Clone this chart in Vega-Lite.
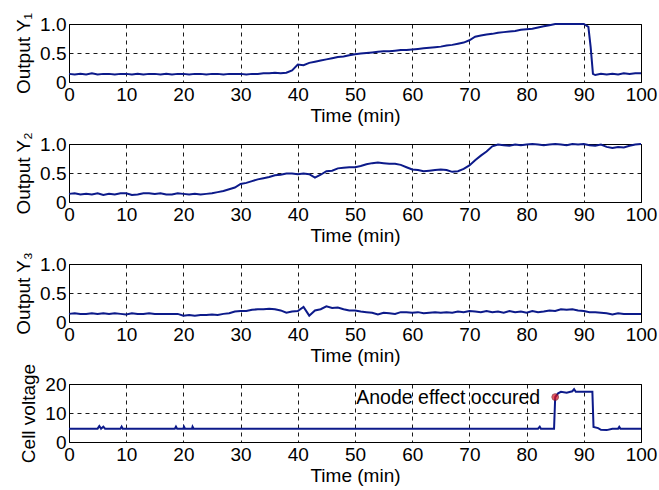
{
  "$schema": "https://vega.github.io/schema/vega-lite/v6.json",
  "padding": {"left": 14, "top": 11, "right": 5, "bottom": 5},
  "background": "white",
  "bounds": "flush",
  "spacing": 62,
  "config": {
    "view": {"stroke": "black", "strokeWidth": 1},
    "font": "Liberation Sans",
    "axis": {
      "labelFont": "Liberation Sans", "labelFontSize": 19, "labelColor": "black",
      "titleFont": "Liberation Sans", "titleFontSize": 19, "titleFontWeight": "normal", "titleColor": "black",
      "domain": false, "ticks": false, "grid": true, "gridColor": "black", "gridDash": [4, 4],
      "gridOpacity": 1, "gridWidth": 0.9, "labelPadding": 3
    },
    "axisX": {"titlePadding": 2, "labelFlush": false},
    "axisY": {"titlePadding": 6, "labelFlush": false}
  },
  "datasets": {
    "y1": [
      {"t":0,"v":0.14},{"t":1,"v":0.13},{"t":2,"v":0.14},{"t":3,"v":0.13},{"t":4,"v":0.15},{"t":5,"v":0.13},{"t":6,"v":0.14},{"t":7,"v":0.14},{"t":8,"v":0.13},{"t":9,"v":0.14},
      {"t":10,"v":0.14},{"t":11,"v":0.13},{"t":12,"v":0.14},{"t":13,"v":0.13},{"t":14,"v":0.14},{"t":15,"v":0.14},{"t":16,"v":0.13},{"t":17,"v":0.14},{"t":18,"v":0.13},{"t":19,"v":0.14},
      {"t":20,"v":0.14},{"t":21,"v":0.13},{"t":22,"v":0.14},{"t":23,"v":0.14},{"t":24,"v":0.13},{"t":25,"v":0.14},{"t":26,"v":0.14},{"t":27,"v":0.13},{"t":28,"v":0.14},{"t":29,"v":0.14},
      {"t":30,"v":0.14},{"t":31,"v":0.13},{"t":32,"v":0.14},{"t":33,"v":0.14},{"t":34,"v":0.15},{"t":35,"v":0.15},{"t":36,"v":0.16},{"t":37,"v":0.15},{"t":38,"v":0.16},{"t":39,"v":0.2},
      {"t":40,"v":0.3},{"t":41,"v":0.29},{"t":42,"v":0.33},{"t":43,"v":0.35},{"t":44,"v":0.37},{"t":45,"v":0.39},{"t":46,"v":0.41},{"t":47,"v":0.43},{"t":48,"v":0.44},{"t":49,"v":0.46},
      {"t":50,"v":0.48},{"t":51,"v":0.49},{"t":52,"v":0.5},{"t":53,"v":0.51},{"t":54,"v":0.52},{"t":55,"v":0.53},{"t":56,"v":0.53},{"t":57,"v":0.54},{"t":58,"v":0.55},{"t":59,"v":0.55},
      {"t":60,"v":0.56},{"t":61,"v":0.57},{"t":62,"v":0.58},{"t":63,"v":0.59},{"t":64,"v":0.6},{"t":65,"v":0.61},{"t":66,"v":0.63},{"t":67,"v":0.64},{"t":68,"v":0.66},{"t":69,"v":0.68},
      {"t":70,"v":0.72},{"t":71,"v":0.78},{"t":72,"v":0.8},{"t":73,"v":0.82},{"t":74,"v":0.83},{"t":75,"v":0.85},{"t":76,"v":0.86},{"t":77,"v":0.87},{"t":78,"v":0.88},{"t":79,"v":0.9},
      {"t":80,"v":0.91},{"t":81,"v":0.92},{"t":82,"v":0.94},{"t":83,"v":0.96},{"t":84,"v":0.98},{"t":85,"v":1.0},{"t":86,"v":1.0},{"t":87,"v":1.0},{"t":88,"v":1.0},{"t":89,"v":1.0},
      {"t":90,"v":1.0},{"t":90.8,"v":0.95},{"t":91.2,"v":0.6},{"t":91.6,"v":0.14},{"t":92,"v":0.12},{"t":93,"v":0.14},{"t":94,"v":0.13},{"t":95,"v":0.14},{"t":96,"v":0.13},{"t":97,"v":0.15},
      {"t":98,"v":0.14},{"t":99,"v":0.15},{"t":100,"v":0.15}
    ],
    "y2": [
      {"t":0,"v":0.14},{"t":1,"v":0.15},{"t":2,"v":0.13},{"t":3,"v":0.14},{"t":4,"v":0.13},{"t":5,"v":0.15},{"t":6,"v":0.12},{"t":7,"v":0.14},{"t":8,"v":0.13},{"t":9,"v":0.15},
      {"t":10,"v":0.15},{"t":11,"v":0.12},{"t":12,"v":0.13},{"t":13,"v":0.15},{"t":14,"v":0.15},{"t":15,"v":0.14},{"t":16,"v":0.15},{"t":17,"v":0.13},{"t":18,"v":0.13},{"t":19,"v":0.15},
      {"t":20,"v":0.14},{"t":21,"v":0.13},{"t":22,"v":0.14},{"t":23,"v":0.13},{"t":24,"v":0.14},{"t":25,"v":0.15},{"t":26,"v":0.17},{"t":27,"v":0.19},{"t":28,"v":0.22},{"t":29,"v":0.25},
      {"t":30,"v":0.31},{"t":31,"v":0.33},{"t":32,"v":0.36},{"t":33,"v":0.39},{"t":34,"v":0.41},{"t":35,"v":0.43},{"t":36,"v":0.46},{"t":37,"v":0.47},{"t":38,"v":0.49},{"t":39,"v":0.49},
      {"t":40,"v":0.48},{"t":41,"v":0.49},{"t":42,"v":0.48},{"t":43,"v":0.42},{"t":44,"v":0.47},{"t":45,"v":0.53},{"t":46,"v":0.54},{"t":47,"v":0.58},{"t":48,"v":0.59},{"t":49,"v":0.6},
      {"t":50,"v":0.6},{"t":51,"v":0.62},{"t":52,"v":0.65},{"t":53,"v":0.67},{"t":54,"v":0.68},{"t":55,"v":0.67},{"t":56,"v":0.66},{"t":57,"v":0.66},{"t":58,"v":0.64},{"t":59,"v":0.6},
      {"t":60,"v":0.56},{"t":61,"v":0.55},{"t":62,"v":0.53},{"t":63,"v":0.54},{"t":64,"v":0.55},{"t":65,"v":0.56},{"t":66,"v":0.55},{"t":67,"v":0.52},{"t":68,"v":0.53},{"t":69,"v":0.57},
      {"t":70,"v":0.63},{"t":71,"v":0.72},{"t":72,"v":0.8},{"t":73,"v":0.87},{"t":74,"v":0.96},{"t":75,"v":0.99},{"t":76,"v":0.98},{"t":77,"v":0.97},{"t":78,"v":0.99},{"t":79,"v":0.98},
      {"t":80,"v":0.99},{"t":81,"v":1.0},{"t":82,"v":0.99},{"t":83,"v":0.98},{"t":84,"v":0.99},{"t":85,"v":1.0},{"t":86,"v":0.99},{"t":87,"v":0.98},{"t":88,"v":1.0},{"t":89,"v":0.99},
      {"t":90,"v":1.0},{"t":91,"v":0.98},{"t":92,"v":0.97},{"t":93,"v":0.99},{"t":94,"v":0.95},{"t":95,"v":0.93},{"t":96,"v":0.95},{"t":97,"v":0.94},{"t":98,"v":0.97},{"t":99,"v":0.99},
      {"t":100,"v":1.0}
    ],
    "y3": [
      {"t":0,"v":0.14},{"t":1,"v":0.15},{"t":2,"v":0.14},{"t":3,"v":0.14},{"t":4,"v":0.15},{"t":5,"v":0.14},{"t":6,"v":0.15},{"t":7,"v":0.14},{"t":8,"v":0.15},{"t":9,"v":0.14},
      {"t":10,"v":0.13},{"t":11,"v":0.15},{"t":12,"v":0.14},{"t":13,"v":0.14},{"t":14,"v":0.15},{"t":15,"v":0.14},{"t":16,"v":0.14},{"t":17,"v":0.14},{"t":18,"v":0.14},{"t":19,"v":0.14},
      {"t":20,"v":0.11},{"t":21,"v":0.12},{"t":22,"v":0.11},{"t":23,"v":0.12},{"t":24,"v":0.12},{"t":25,"v":0.13},{"t":26,"v":0.12},{"t":27,"v":0.14},{"t":28,"v":0.15},{"t":29,"v":0.18},
      {"t":30,"v":0.19},{"t":31,"v":0.19},{"t":32,"v":0.21},{"t":33,"v":0.22},{"t":34,"v":0.22},{"t":35,"v":0.23},{"t":36,"v":0.22},{"t":37,"v":0.2},{"t":38,"v":0.16},{"t":39,"v":0.18},
      {"t":40,"v":0.19},{"t":41,"v":0.26},{"t":42,"v":0.11},{"t":43,"v":0.2},{"t":44,"v":0.22},{"t":45,"v":0.27},{"t":46,"v":0.24},{"t":47,"v":0.25},{"t":48,"v":0.22},{"t":49,"v":0.2},
      {"t":50,"v":0.2},{"t":51,"v":0.18},{"t":52,"v":0.17},{"t":53,"v":0.16},{"t":54,"v":0.13},{"t":55,"v":0.16},{"t":56,"v":0.15},{"t":57,"v":0.14},{"t":58,"v":0.17},{"t":59,"v":0.17},
      {"t":60,"v":0.16},{"t":61,"v":0.17},{"t":62,"v":0.15},{"t":63,"v":0.16},{"t":64,"v":0.17},{"t":65,"v":0.16},{"t":66,"v":0.17},{"t":67,"v":0.16},{"t":68,"v":0.18},{"t":69,"v":0.17},
      {"t":70,"v":0.19},{"t":71,"v":0.18},{"t":72,"v":0.17},{"t":73,"v":0.19},{"t":74,"v":0.17},{"t":75,"v":0.18},{"t":76,"v":0.16},{"t":77,"v":0.19},{"t":78,"v":0.17},{"t":79,"v":0.18},
      {"t":80,"v":0.16},{"t":81,"v":0.19},{"t":82,"v":0.17},{"t":83,"v":0.18},{"t":84,"v":0.2},{"t":85,"v":0.19},{"t":86,"v":0.22},{"t":87,"v":0.21},{"t":88,"v":0.22},{"t":89,"v":0.2},
      {"t":90,"v":0.19},{"t":91,"v":0.17},{"t":92,"v":0.17},{"t":93,"v":0.16},{"t":94,"v":0.15},{"t":95,"v":0.13},{"t":96,"v":0.15},{"t":97,"v":0.14},{"t":98,"v":0.14},{"t":99,"v":0.14},
      {"t":100,"v":0.14}
    ],
    "cv": [
      {"t":0,"v":4.6},{"t":5,"v":4.6},{"t":5.3,"v":5.5},{"t":5.6,"v":4.6},{"t":6,"v":5.3},{"t":6.3,"v":4.6},{"t":9,"v":4.6},{"t":9.2,"v":5.3},{"t":9.4,"v":4.6},
      {"t":18.5,"v":4.6},{"t":18.7,"v":5.3},{"t":18.9,"v":4.6},{"t":20,"v":4.6},{"t":20.1,"v":5.3},{"t":20.3,"v":4.6},{"t":21.5,"v":4.6},{"t":21.6,"v":5.3},{"t":21.8,"v":4.6},
      {"t":82,"v":4.6},{"t":82.3,"v":5.3},{"t":82.5,"v":4.6},{"t":84.8,"v":4.6},{"t":85,"v":15.5},{"t":85.5,"v":16.8},{"t":86,"v":17.3},{"t":87,"v":17.0},{"t":88,"v":17.5},
      {"t":88.3,"v":18.2},{"t":88.6,"v":17.3},{"t":89,"v":17.3},{"t":90,"v":17.3},{"t":91.5,"v":17.3},{"t":91.7,"v":5.2},{"t":92.5,"v":4.8},{"t":93,"v":4.2},{"t":94,"v":4.1},
      {"t":95,"v":4.6},{"t":96,"v":4.6},{"t":96.2,"v":5.2},{"t":96.4,"v":4.6},{"t":100,"v":4.6}
    ],
    "anode": [{"t":85,"v":15.5,"label":"Anode effect occured"}]
  },
  "vconcat": [
    {
      "width": 572, "height": 58,
      "data": {"name": "y1"},
      "mark": {"type": "line", "color": "#0c1a8a", "strokeWidth": 2},
      "encoding": {
        "x": {"field": "t", "type": "quantitative", "scale": {"domain": [0, 100], "nice": false}, "axis": {"title": "Time (min)", "values": [0,10,20,30,40,50,60,70,80,90,100]}},
        "y": {"field": "v", "type": "quantitative", "scale": {"domain": [0, 1], "nice": false}, "axis": {"title": "Output Y₁", "values": [0, 0.5, 1], "labelExpr": "datum.value == 0 ? '0' : format(datum.value, '.1f')"}}
      }
    },
    {
      "width": 572, "height": 58,
      "data": {"name": "y2"},
      "mark": {"type": "line", "color": "#0c1a8a", "strokeWidth": 2},
      "encoding": {
        "x": {"field": "t", "type": "quantitative", "scale": {"domain": [0, 100], "nice": false}, "axis": {"title": "Time (min)", "values": [0,10,20,30,40,50,60,70,80,90,100]}},
        "y": {"field": "v", "type": "quantitative", "scale": {"domain": [0, 1], "nice": false}, "axis": {"title": "Output Y₂", "values": [0, 0.5, 1], "labelExpr": "datum.value == 0 ? '0' : format(datum.value, '.1f')"}}
      }
    },
    {
      "width": 572, "height": 58,
      "data": {"name": "y3"},
      "mark": {"type": "line", "color": "#0c1a8a", "strokeWidth": 2},
      "encoding": {
        "x": {"field": "t", "type": "quantitative", "scale": {"domain": [0, 100], "nice": false}, "axis": {"title": "Time (min)", "values": [0,10,20,30,40,50,60,70,80,90,100]}},
        "y": {"field": "v", "type": "quantitative", "scale": {"domain": [0, 1], "nice": false}, "axis": {"title": "Output Y₃", "values": [0, 0.5, 1], "labelExpr": "datum.value == 0 ? '0' : format(datum.value, '.1f')"}}
      }
    },
    {
      "width": 572, "height": 58,
      "encoding": {
        "x": {"field": "t", "type": "quantitative", "scale": {"domain": [0, 100], "nice": false}, "axis": {"title": "Time (min)", "values": [0,10,20,30,40,50,60,70,80,90,100]}},
        "y": {"field": "v", "type": "quantitative", "scale": {"domain": [0, 20], "nice": false}, "axis": {"title": "Cell voltage", "values": [0, 10, 20]}}
      },
      "layer": [
        {"data": {"name": "cv"}, "mark": {"type": "line", "color": "#0c1a8a", "strokeWidth": 2}},
        {"data": {"name": "anode"}, "mark": {"type": "point", "filled": true, "color": "#e0101a", "size": 45, "stroke": "#7a1020", "strokeWidth": 1}},
        {"data": {"name": "anode"}, "mark": {"type": "text", "align": "right", "baseline": "middle", "dx": -15, "dy": 1, "font": "Liberation Sans", "fontSize": 19.5, "color": "black"}, "encoding": {"text": {"field": "label"}}}
      ]
    }
  ]
}
